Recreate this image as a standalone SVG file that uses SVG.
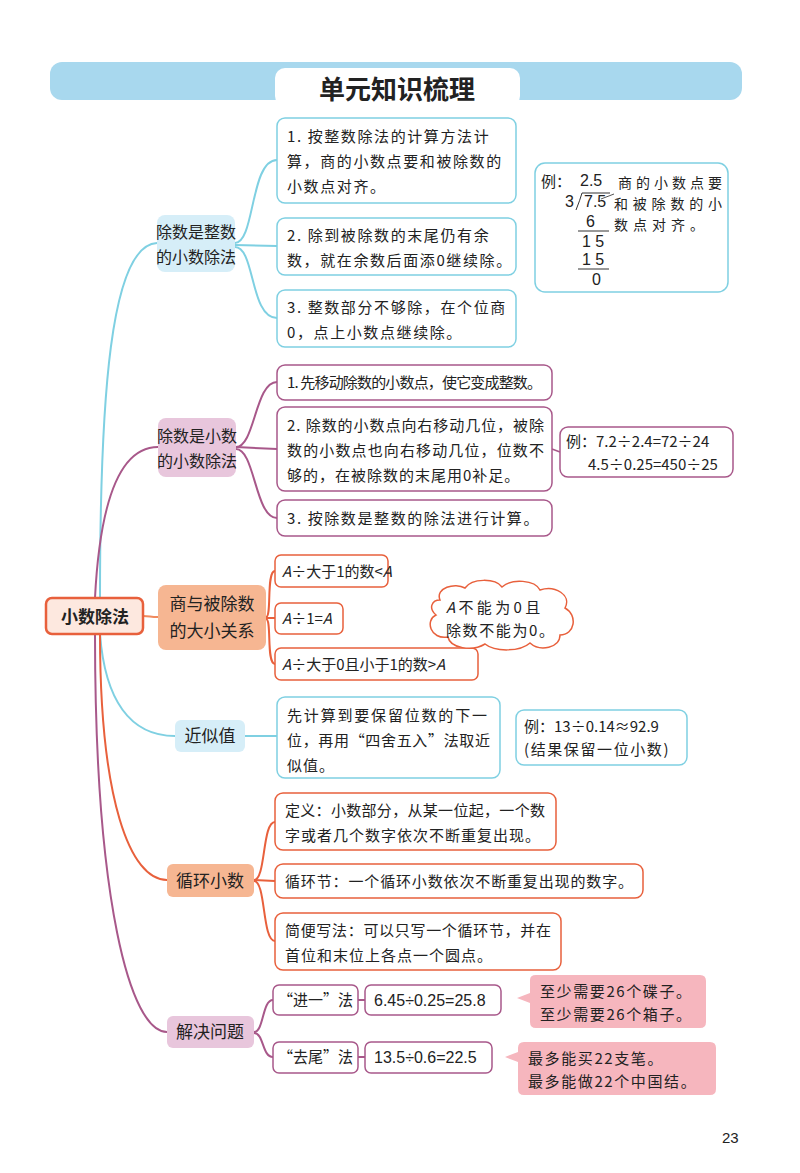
<svg xmlns="http://www.w3.org/2000/svg" width="800" height="1173" viewBox="0 0 800 1173">
<style>
text{font-family:"Noto Sans CJK SC","Liberation Sans",sans-serif;font-size:15px;fill:#222}
.l{letter-spacing:1.6px}
.m{letter-spacing:1px}
.b{font-size:17px}
.n{font-family:"Liberation Sans",sans-serif;font-size:16px}
.leafC{fill:#fff;stroke:#7fd0e2;stroke-width:1.5}
.leafP{fill:#fff;stroke:#a8588a;stroke-width:1.5}
.leafO{fill:#fff;stroke:#e8603c;stroke-width:1.5}
.c{fill:none;stroke-width:2}
</style>
<rect width="800" height="1173" fill="#fff"/>
<g id="header">
<rect x="50" y="62" width="692" height="38" rx="12" fill="#a8d8ee"/>
<rect x="275" y="68" width="245" height="38" rx="10" fill="#fff"/>
<text x="397" y="99" text-anchor="middle" style="font-size:26px;font-weight:bold">单元知识梳理</text>
</g>
<g id="connectors">
<path class="c" stroke="#7fd0e2" d="M100,598 C100,400 110,245 157,243"/>
<path class="c" stroke="#a8588a" d="M95,598 C100,500 120,447 158,447"/>
<path class="c" stroke="#f08a5e" d="M143,616 C150,616 150,617 158,617"/>
<path class="c" stroke="#7fd0e2" d="M100,634 C105,700 130,736 175,736"/>
<path class="c" stroke="#e8603c" d="M100,634 C100,800 130,880 167,880"/>
<path class="c" stroke="#a8588a" d="M95,634 C95,900 130,1032 167,1032"/>
<g stroke="#7fd0e2" class="c"><path d="M235,243 C255,243 250,160 277,160"/><path d="M235,245 L277,246"/><path d="M235,247 C255,247 250,318 277,318"/></g>
<g stroke="#a8588a" class="c"><path d="M236,447 C255,447 255,382 277,382"/><path d="M236,447 L277,449"/><path d="M236,449 C255,449 255,518 277,518"/><path d="M552,449 L560,452" stroke-width="1.5"/></g>
<g stroke="#e8603c" class="c"><path d="M266,617 C272,617 266,571 275,571"/><path d="M266,618 L275,618"/><path d="M266,619 C272,619 266,664 275,664"/></g>
<path class="c" stroke="#7fd0e2" d="M245,736 L277,736"/>
<g stroke="#e8603c" class="c"><path d="M254,880 C266,880 262,822 275,822"/><path d="M254,880 L275,881"/><path d="M254,881 C266,881 262,941 275,941"/></g>
<g stroke="#a8588a" class="c"><path d="M254,1032 C264,1032 262,1000 273,1000"/><path d="M254,1033 C264,1033 262,1057 273,1057"/><path d="M358,1000 L365,1000"/><path d="M358,1057 L365,1057"/></g>
</g>
<g id="root"><rect x="46" y="598" width="97" height="36" rx="6" fill="#fde8df" stroke="#e8603c" stroke-width="2.5"/><text x="95" y="623" text-anchor="middle" class="b" style="font-weight:bold">小数除法</text></g>
<g id="b1"><rect x="157" y="215" width="78" height="57" rx="8" fill="#d6eef8"/><text x="196" y="238" text-anchor="middle" style="font-size:16px">除数是整数</text><text x="196" y="263" text-anchor="middle" style="font-size:16px">的小数除法</text></g>
<g id="b2"><rect x="158" y="418" width="78" height="59" rx="8" fill="#e8c6dc"/><text x="197" y="442" text-anchor="middle" style="font-size:16px">除数是小数</text><text x="197" y="467" text-anchor="middle" style="font-size:16px">的小数除法</text></g>
<g id="b3"><rect x="158" y="585" width="108" height="65" rx="8" fill="#f6b692"/><text x="212" y="610" text-anchor="middle" class="b">商与被除数</text><text x="212" y="637" text-anchor="middle" class="b">的大小关系</text></g>
<g id="b4"><rect x="175" y="720" width="70" height="32" rx="6" fill="#d6eef8"/><text x="210" y="742" text-anchor="middle" class="b">近似值</text></g>
<g id="b5"><rect x="167" y="864" width="87" height="33" rx="6" fill="#f6b692"/><text x="210" y="887" text-anchor="middle" class="b">循环小数</text></g>
<g id="b6"><rect x="167" y="1016" width="87" height="32" rx="6" fill="#e8c6dc"/><text x="210" y="1038" text-anchor="middle" class="b">解决问题</text></g>
<g id="l1a" class="l"><rect class="leafC" x="277" y="118" width="239" height="85" rx="8"/><text x="287" y="142">1. 按整数除法的计算方法计</text><text x="287" y="167">算，商的小数点要和被除数的</text><text x="287" y="192">小数点对齐。</text></g>
<g id="l1b" class="l"><rect class="leafC" x="277" y="218" width="239" height="57" rx="8"/><text x="287" y="241">2. 除到被除数的末尾仍有余</text><text x="287" y="266">数，就在余数后面添0继续除。</text></g>
<g id="l1c" class="l"><rect class="leafC" x="277" y="290" width="239" height="57" rx="8"/><text x="287" y="313">3. 整数部分不够除，在个位商</text><text x="287" y="338">0，点上小数点继续除。</text></g>
<g id="ex1"><rect class="leafC" x="535" y="163" width="193" height="129" rx="10"/>
<text x="541" y="187">例：</text>
<text x="580" y="186" class="n">2.5</text><text x="565" y="207" class="n">3</text><path d="M576,210 Q580,200 582,193 L610,193" fill="none" stroke="#333"/><text x="584" y="207" class="n">7.5</text>
<text x="586" y="227" class="n">6</text><line x1="578" y1="231" x2="609" y2="231" stroke="#333"/><text x="582" y="247" class="n">1 5</text><text x="582" y="265" class="n">1 5</text><line x1="578" y1="269" x2="609" y2="269" stroke="#333"/><text x="592" y="285" class="n">0</text>
<path d="M601,199 L614,194" stroke="#555"/>
<text x="618" y="188" style="font-size:14px" textLength="104" lengthAdjust="spacing">商的小数点要</text><text x="614" y="209" style="font-size:14px" textLength="108" lengthAdjust="spacing">和被除数的小</text><text x="614" y="230" style="font-size:14px" textLength="90" lengthAdjust="spacing">数点对齐。</text></g>
<g id="l2a"><rect class="leafP" x="277" y="365" width="275" height="35" rx="8"/><text x="287" y="388" textLength="255" lengthAdjust="spacing">1. 先移动除数的小数点，使它变成整数。</text></g>
<g id="l2b"><rect class="leafP" x="277" y="407" width="275" height="84" rx="8"/><text x="287" y="431" textLength="257" lengthAdjust="spacing">2. 除数的小数点向右移动几位，被除</text><text x="287" y="456" textLength="257" lengthAdjust="spacing">数的小数点也向右移动几位，位数不</text><text x="287" y="481" class="m">够的，在被除数的末尾用0补足。</text></g>
<g id="l2c" class="l"><rect class="leafP" x="277" y="500" width="275" height="36" rx="8"/><text x="287" y="524">3. 按除数是整数的除法进行计算。</text></g>
<g id="ex2"><rect class="leafP" x="560" y="427" width="173" height="50" rx="8"/><text x="566" y="447">例：7.2÷2.4=72÷24</text><text x="588" y="470">4.5÷0.25=450÷25</text></g>
<g id="l3a"><rect class="leafO" x="275" y="555" width="113" height="32" rx="6"/><text x="282" y="577" style="font-style:italic">A<tspan style="font-style:normal">÷大于1的数&lt;</tspan>A</text></g>
<g id="l3b"><rect class="leafO" x="275" y="603" width="68" height="31" rx="6"/><text x="282" y="624" style="font-style:italic">A<tspan style="font-style:normal">÷1=</tspan>A</text></g>
<g id="l3c"><rect class="leafO" x="275" y="648" width="203" height="32" rx="6"/><text x="282" y="670" style="font-style:italic">A<tspan style="font-style:normal">÷大于0且小于1的数&gt;</tspan>A</text></g>
<g id="cloud"><path d="M440,600 C435,588 455,582 465,588 C472,578 495,578 502,587 C512,578 535,580 540,590 C555,585 572,595 565,608 C578,615 575,635 560,635 C560,648 540,652 530,643 C520,652 495,652 485,644 C472,652 450,648 448,637 C430,640 425,620 436,615 C428,608 432,600 440,600 Z" fill="#fff" stroke="#e8603c" stroke-width="1.5"/><text x="446" y="613"><tspan style="font-style:italic">A</tspan> 不 能 为 0 且</text><text x="446" y="636" class="l">除数不能为0。</text></g>
<g id="l4"><rect class="leafC" x="277" y="697" width="223" height="81" rx="8"/><text x="287" y="721" textLength="200" lengthAdjust="spacing">先计算到要保留位数的下一</text><text x="287" y="746" textLength="203" lengthAdjust="spacing">位，再用“四舍五入”法取近</text><text x="287" y="771" class="m">似值。</text></g>
<g id="ex4"><rect class="leafC" x="516" y="710" width="171" height="55" rx="8"/><text x="524" y="732">例：13÷0.14≈92.9</text><text x="524" y="755" class="l">(结果保留一位小数)</text></g>
<g id="l5a"><rect class="leafO" x="275" y="793" width="281" height="57" rx="8"/><text x="285" y="816" textLength="260" lengthAdjust="spacing">定义：小数部分，从某一位起，一个数</text><text x="285" y="841" class="m">字或者几个数字依次不断重复出现。</text></g>
<g id="l5b"><rect class="leafO" x="275" y="864" width="368" height="34" rx="8"/><text x="285" y="887" textLength="348" lengthAdjust="spacing">循环节：一个循环小数依次不断重复出现的数字。</text></g>
<g id="l5c"><rect class="leafO" x="275" y="913" width="286" height="57" rx="8"/><text x="285" y="936" textLength="266" lengthAdjust="spacing">简便写法：可以只写一个循环节，并在</text><text x="285" y="961" class="m">首位和末位上各点一个圆点。</text></g>
<g id="l6a"><rect class="leafP" x="273" y="985" width="85" height="30" rx="6"/><text x="278" y="1006" style="font-size:16px" textLength="75" lengthAdjust="spacingAndGlyphs">“进一”法</text></g>
<g id="l6b"><rect class="leafP" x="365" y="985" width="136" height="30" rx="6"/><text x="374" y="1006" class="n">6.45÷0.25=25.8</text></g>
<g id="l6c"><path d="M517,998 L530,993 L530,980 Q530,975 536,975 L700,975 Q706,975 706,981 L706,1022 Q706,1028 700,1028 L536,1028 Q530,1028 530,1022 L530,1003 Z" fill="#f6b6be"/><text x="540" y="997" class="l">至少需要26个碟子。</text><text x="540" y="1020" class="l">至少需要26个箱子。</text></g>
<g id="l6d"><rect class="leafP" x="273" y="1042" width="85" height="31" rx="6"/><text x="278" y="1063" style="font-size:16px" textLength="75" lengthAdjust="spacingAndGlyphs">“去尾”法</text></g>
<g id="l6e"><rect class="leafP" x="365" y="1042" width="127" height="31" rx="6"/><text x="374" y="1063" class="n">13.5÷0.6=22.5</text></g>
<g id="l6f"><path d="M505,1057 L518,1052 L518,1048 Q518,1042 524,1042 L710,1042 Q716,1042 716,1048 L716,1089 Q716,1095 710,1095 L524,1095 Q518,1095 518,1089 L518,1062 Z" fill="#f6b6be"/><text x="528" y="1064" class="l">最多能买22支笔。</text><text x="528" y="1087" class="l">最多能做22个中国结。</text></g>
<text x="722" y="1143" style="font-family:'Liberation Sans',sans-serif;font-size:15px">23</text>
</svg>
